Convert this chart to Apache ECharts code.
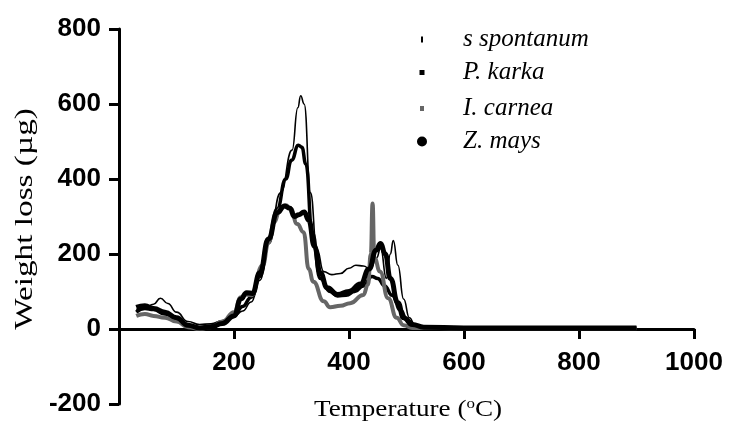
<!DOCTYPE html>
<html>
<head>
<meta charset="utf-8">
<script src="https://cdn.jsdelivr.net/npm/echarts@6/dist/echarts.min.js"></script>
<style>
  html, body { margin: 0; padding: 0; background: #fff; }
  #chart { width: 729px; height: 425px; }
</style>
</head>
<body>
<div id="chart"></div>
<script>
// 系列名称
const seriesNames = ['s spontanum', 'P. karka', 'I. carnea', 'Z. mays']

// s spontanum
const tempSpont = [30, 45, 60, 72, 85, 100, 120, 140, 160, 180, 200, 215, 230, 245, 260, 281, 301, 311, 316, 322, 333, 344, 356, 370, 385, 400, 412, 425, 437, 448, 455, 465, 472, 477, 485, 495, 505, 515, 530, 560, 600, 700, 800, 900]
const lossSpont = [52, 56, 66, 82, 68, 45, 20, 12, 14, 22, 33, 48, 72, 130, 230, 363, 477, 590, 622, 600, 363, 214, 153, 145, 148, 162, 170, 168, 160, 190, 215, 135, 200, 236, 170, 80, 30, 10, 4, 3, 2, 2, 2, 2]

// P. karka
const tempKarka = [30, 45, 60, 80, 100, 120, 140, 160, 180, 200, 215, 230, 245, 260, 275, 290, 300, 312, 318, 325, 336, 350, 367, 380, 395, 410, 425, 440, 450, 462, 475, 490, 500, 515, 540, 600, 700, 800, 900]
const lossKarka = [45, 55, 52, 40, 25, 8, 3, 8, 20, 35, 60, 85, 140, 230, 320, 400, 450, 490, 485, 440, 258, 135, 100, 88, 90, 100, 115, 140, 135, 115, 90, 50, 25, 8, 3, 2, 2, 2, 2]

// I. carnea
const tempCarnea = [30, 45, 60, 80, 100, 120, 140, 160, 180, 200, 212, 220, 230, 250, 260, 270, 280, 290, 298, 310, 321, 330, 338, 356, 367, 385, 402, 425, 433, 438, 441, 444, 454, 468, 483, 495, 510, 600, 700, 800, 900]
const lossCarnea = [35, 40, 35, 30, 20, 5, 0, 5, 20, 45, 85, 92, 90, 170, 230, 285, 320, 330, 322, 280, 258, 160, 126, 74, 58, 62, 69, 91, 118, 200, 335, 190, 153, 82, 30, 10, 3, 2, 2, 2, 2]

// Z. mays
const tempMays = [30, 45, 60, 80, 100, 120, 140, 160, 180, 200, 212, 222, 232, 245, 260, 275, 288, 297, 305, 313, 322, 330, 340, 350, 362, 380, 400, 420, 435, 447, 455, 463, 472, 485, 495, 510, 530, 600, 700, 800, 900]
const lossMays = [58, 62, 55, 45, 30, 10, 3, 5, 15, 35, 80, 97, 95, 150, 240, 310, 328, 322, 300, 305, 312, 290, 220, 150, 110, 92, 100, 120, 160, 210, 228, 200, 135, 70, 30, 12, 5, 3, 3, 3, 3]

// 坐标轴刻度
const xTicks = [0, 200, 400, 600, 800, 1000]
const yTicks = [-200, 0, 200, 400, 600, 800]

const pair = (xs, ys) => xs.map((x, i) => [x, ys[i]])

const lineStyles = [
    {color: '#000', width: 1.6},
    {color: '#000', width: 3.5},
    {color: '#666', width: 4},
    {color: '#000', width: 5},
]
const seriesData = [
    pair(tempSpont, lossSpont),
    pair(tempKarka, lossKarka),
    pair(tempCarnea, lossCarnea),
    pair(tempMays, lossMays),
]

// 图例标记：每个图例单独一个组件，方便控制标记大小
const legendMarks = [
    {icon: 'rect', w: 2, h: 6, color: '#000', row: 40},
    {icon: 'rect', w: 5, h: 5, color: '#000', row: 73},
    {icon: 'rect', w: 4, h: 5, color: '#666', row: 109},
    {icon: 'circle', w: 10, h: 10, color: '#000', row: 142},
]
const legends = legendMarks.map((m, i) => {
    const left = 422 - m.w / 2
    return {
        left: left,
        top: m.row - 13,
        padding: 0,
        itemWidth: m.w,
        itemHeight: m.h,
        selectedMode: false,
        data: [{name: seriesNames[i], icon: m.icon, itemStyle: {color: m.color, borderWidth: 0}}],
        textStyle: {
            fontFamily: 'Liberation Serif',
            fontStyle: 'italic',
            fontSize: 25,
            color: '#000',
            padding: [0, 0, 0, 463 - (left + m.w + 5)],
        },
    }
})

const axisFontBold = {
    fontFamily: 'Liberation Sans',
    fontWeight: 'bold',
    fontSize: 26,
    color: '#000',
}

// 绘图区：800 在 y=29，-200 在 y=404，0 线在 y=329
const gridTop = 29
const gridBottom = 21
const plotHeight = 425 - gridTop - gridBottom
const zeroOffset = -plotHeight * (0 - yTicks[0]) / (yTicks[yTicks.length - 1] - yTicks[0])

const chart = echarts.init(document.getElementById('chart'), null, {renderer: 'canvas'})
const option = {
    animation: false,
    backgroundColor: '#fff',
    grid: {left: 119, right: 35, top: gridTop, bottom: gridBottom, containLabel: false, outerBoundsMode: 'none'},
    legend: legends,
    // 坐标轴标题（原图文字横向略拉伸）
    graphic: [
        {
            type: 'text',
            x: 408,
            y: 410,
            scaleX: 1.13,
            style: {
                text: 'Temperature ({sup|o}C)',
                fontFamily: 'Liberation Serif',
                fontSize: 24,
                fill: '#000',
                align: 'center',
                verticalAlign: 'middle',
                rich: {
                    sup: {fontFamily: 'Liberation Serif', fontSize: 15, fill: '#000', padding: [0, 0, 12, 0]},
                },
            },
        },
        {
            type: 'text',
            x: 25,
            y: 219,
            rotation: Math.PI / 2,
            scaleX: 1.28,
            style: {
                text: 'Weight loss (µg)',
                fontFamily: 'Liberation Serif',
                fontSize: 26,
                fill: '#000',
                align: 'center',
                verticalAlign: 'middle',
            },
        },
    ],
    xAxis: {
        type: 'value',
        min: xTicks[0],
        max: xTicks[xTicks.length - 1],
        interval: 200,
        position: 'bottom',
        offset: zeroOffset,
        axisLine: {onZero: false, lineStyle: {color: '#000', width: 3}},
        axisTick: {show: true, inside: false, length: 10, lineStyle: {color: '#000', width: 3}},
        axisLabel: Object.assign({margin: 21, formatter: v => (v === 0 ? '' : String(v))}, axisFontBold),
        splitLine: {show: false},
    },
    yAxis: {
        type: 'value',
        min: yTicks[0],
        max: yTicks[yTicks.length - 1],
        interval: 200,
        axisLine: {show: true, lineStyle: {color: '#000', width: 3}},
        axisTick: {show: true, inside: false, length: 10, lineStyle: {color: '#000', width: 3}},
        axisLabel: Object.assign({margin: 18}, axisFontBold),
        splitLine: {show: false},
    },
    series: seriesNames.map((name, i) => ({
        name: name,
        type: 'line',
        data: seriesData[i],
        showSymbol: false,
        symbol: 'none',
        smooth: 0.5,
        smoothMonotone: 'x',
        lineStyle: lineStyles[i],
        itemStyle: {color: lineStyles[i].color},
        z: 2 + i,
    })),
}
chart.setOption(option)
</script>
</body>
</html>
